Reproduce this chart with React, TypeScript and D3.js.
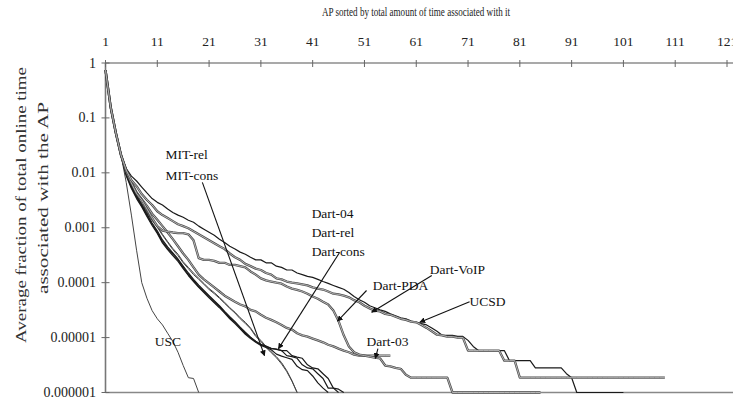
import React from 'react';
import * as d3 from 'd3';

// ---------- data ----------
const xTicks = [1, 11, 21, 31, 41, 51, 61, 71, 81, 91, 101, 111, 121];
const yTicks = [1, 0.1, 0.01, 0.001, 0.0001, 0.00001, 0.000001];
const yTickLabels = ['1', '0.1', '0.01', '0.001', '0.0001', '0.00001', '0.000001'];

const usc = [0.74, 0.157, 0.053, 0.021, 0.0067, 0.0017, 3.9e-4, 1.0e-4, 5.2e-5, 3.1e-5, 2.2e-5, 1.7e-5, 1.2e-5, 8.5e-6, 5.4e-6, 3.1e-6, 1.86e-6, 1.8e-6, 1e-6];

const mitRel = [0.74, 0.157, 0.053, 0.021, 0.0107, 0.0059, 0.0039, 0.0028, 0.002, 0.0014, 0.00107, 7.6e-4, 5.6e-4, 4.2e-4, 3.3e-4, 2.4e-4, 1.9e-4, 1.5e-4, 1.2e-4, 9.7e-5, 7.8e-5, 6.6e-5, 5.4e-5, 4.4e-5, 3.5e-5, 2.9e-5, 2.3e-5, 1.9e-5, 1.5e-5, 1.1e-5, 8.9e-6, 6.9e-6, 5.5e-6, 4.5e-6, 3.5e-6, 2.5e-6, 1.65e-6, 1e-6];
const mitCons = [0.73, 0.15, 0.05, 0.02, 0.01, 0.0056, 0.0037, 0.0027, 0.0019, 0.00135, 0.00102, 7.3e-4, 5.4e-4, 4.0e-4, 3.1e-4, 2.3e-4, 1.8e-4, 1.4e-4, 1.15e-4, 9.3e-5, 7.5e-5, 6.3e-5, 5.2e-5, 4.2e-5, 3.4e-5, 2.8e-5, 2.2e-5, 1.8e-5, 1.45e-5, 1.05e-5, 8.5e-6, 6.6e-6, 5.3e-6, 4.3e-6, 3.3e-6, 2.4e-6, 1.6e-6, 1e-6];

const dart04 = [0.74, 0.157, 0.053, 0.021, 0.0092, 0.0055, 0.0036, 0.0025, 0.0017, 0.00116, 8.3e-4, 5.6e-4, 4.2e-4, 3.3e-4, 2.6e-4, 1.9e-4, 1.4e-4, 1.1e-4, 8.5e-5, 6.9e-5, 5.6e-5, 4.5e-5, 3.7e-5, 2.9e-5, 2.3e-5, 1.9e-5, 1.5e-5, 1.2e-5, 1.0e-5, 8.5e-6, 7.4e-6, 6.9e-6, 6.3e-6, 6.1e-6, 5.8e-6, 4.7e-6, 4.5e-6, 4.2e-6, 3.2e-6, 2.8e-6, 2.7e-6, 2.2e-6, 1.8e-6, 1.2e-6, 1.2e-6, 1.15e-6, 1e-6];
const dartRel = [0.74, 0.16, 0.055, 0.022, 0.0098, 0.0058, 0.0038, 0.0026, 0.0018, 0.00122, 8.8e-4, 6.0e-4, 4.5e-4, 3.5e-4, 2.7e-4, 2.0e-4, 1.5e-4, 1.15e-4, 9.0e-5, 7.2e-5, 5.8e-5, 4.7e-5, 3.8e-5, 3.0e-5, 2.4e-5, 1.95e-5, 1.55e-5, 1.25e-5, 1.02e-5, 8.6e-6, 7.5e-6, 7.0e-6, 6.4e-6, 6.2e-6, 5.8e-6, 5.8e-6, 4.7e-6, 4.4e-6, 4.2e-6, 3.2e-6, 2.8e-6, 2.7e-6, 2.2e-6, 1.8e-6, 1.2e-6, 1e-6];
const dartCons = [0.73, 0.15, 0.051, 0.02, 0.0088, 0.0052, 0.0034, 0.0024, 0.0016, 0.0011, 7.9e-4, 5.3e-4, 4.0e-4, 3.1e-4, 2.45e-4, 1.8e-4, 1.35e-4, 1.05e-4, 8.2e-5, 6.6e-5, 5.3e-5, 4.3e-5, 3.5e-5, 2.8e-5, 2.2e-5, 1.8e-5, 1.45e-5, 1.15e-5, 9.6e-6, 8.2e-6, 7.2e-6, 6.6e-6, 6.0e-6, 5.0e-6, 4.6e-6, 4.3e-6, 4.0e-6, 3.0e-6, 2.6e-6, 2.5e-6, 2.0e-6, 1.5e-6, 1.2e-6, 1e-6];

const dart03 = [0.74, 0.157, 0.053, 0.021, 0.0112, 0.0067, 0.0044, 0.0033, 0.0025, 0.0018,
  0.0014, 0.00107, 8.2e-4, 6.2e-4, 4.6e-4, 3.4e-4, 2.6e-4, 1.9e-4, 1.4e-4, 1.15e-4,
  9.7e-5, 8.2e-5, 6.9e-5, 5.8e-5, 5.1e-5, 4.5e-5, 4.0e-5, 3.7e-5, 3.2e-5, 3.0e-5,
  2.6e-5, 2.3e-5, 2.1e-5, 1.9e-5, 1.7e-5, 1.5e-5, 1.4e-5, 1.2e-5, 1.1e-5, 1.04e-5,
  9.6e-6, 8.9e-6, 8.2e-6, 7.4e-6, 6.9e-6, 6.3e-6, 5.8e-6, 5.4e-6, 4.9e-6, 4.7e-6,
  4.7e-6, 4.7e-6, 4.7e-6, 4.7e-6, 4.7e-6, 4.7e-6];

const dartPDA = [0.74, 0.157, 0.053, 0.021, 0.0107, 0.0065, 0.0042, 0.0032, 0.0022, 0.0015,
  0.00107, 8.9e-4, 8.5e-4, 8.2e-4, 8.0e-4, 8.0e-4, 7.6e-4, 5.9e-4, 2.8e-4, 2.6e-4,
  2.6e-4, 2.5e-4, 2.3e-4, 2.3e-4, 2.1e-4, 2.1e-4, 2.0e-4, 1.9e-4, 1.6e-4, 1.4e-4,
  1.2e-4, 1.1e-4, 1.05e-4, 1.0e-4, 9.6e-5, 8.5e-5, 7.8e-5, 7.4e-5, 6.9e-5, 6.3e-5,
  5.6e-5, 5.1e-5, 4.5e-5, 4.0e-5, 3.1e-5, 2.0e-5, 1.1e-5, 6.9e-6, 5.4e-6, 4.9e-6,
  4.7e-6, 4.5e-6, 4.3e-6, 4.2e-6, 3.1e-6, 3.0e-6, 2.8e-6, 2.7e-6, 2.1e-6, 1.86e-6,
  1.86e-6, 1.86e-6, 1.86e-6, 1.86e-6, 1.86e-6, 1.86e-6, 1.86e-6, 1e-6, 1e-6, 1e-6,
  1e-6, 1e-6, 1e-6, 1e-6, 1e-6, 1e-6, 1e-6, 1e-6, 1e-6, 1e-6,
  1e-6, 1e-6, 1e-6, 1e-6, 1e-6];

const dartVoIP = [0.74, 0.157, 0.053, 0.021, 0.012, 0.0087, 0.0071, 0.0055, 0.0043, 0.0034,
  0.0029, 0.0026, 0.0022, 0.0019, 0.0017, 0.00155, 0.00137, 0.00126, 0.00107, 9.4e-4,
  8.3e-4, 7.3e-4, 6.2e-4, 5.4e-4, 4.6e-4, 4.1e-4, 3.6e-4, 3.3e-4, 2.9e-4, 2.6e-4,
  2.6e-4, 2.3e-4, 2.3e-4, 2.0e-4, 1.9e-4, 1.7e-4, 1.7e-4, 1.5e-4, 1.4e-4, 1.3e-4,
  1.25e-4, 1.15e-4, 1.05e-4, 9.7e-5, 8.9e-5, 8.2e-5, 7.6e-5, 6.6e-5, 5.6e-5, 4.9e-5,
  4.4e-5, 3.8e-5, 3.5e-5, 3.2e-5, 3.0e-5, 2.7e-5, 2.5e-5, 2.3e-5, 2.2e-5, 2.0e-5,
  1.9e-5, 1.8e-5, 1.7e-5, 1.5e-5, 1.3e-5, 1.1e-5, 1.1e-5, 1.1e-5, 1.05e-5, 1.05e-5,
  8.9e-6, 6.9e-6, 5.8e-6, 5.8e-6, 5.8e-6, 5.8e-6, 5.8e-6, 5.8e-6, 3.8e-6, 3.8e-6,
  3.8e-6, 3.8e-6, 3.8e-6, 2.8e-6, 2.8e-6, 2.8e-6, 2.8e-6, 2.8e-6, 2.8e-6, 2.2e-6,
  1.86e-6, 1e-6, 1e-6, 1e-6, 1e-6, 1e-6, 1e-6, 1e-6, 1e-6, 1e-6,
  1e-6];

const ucsd = [0.74, 0.157, 0.053, 0.021, 0.0112, 0.0073, 0.0057, 0.0041, 0.0032, 0.0026,
  0.002, 0.0017, 0.0015, 0.00132, 0.00116, 0.00107, 9.8e-4, 8.6e-4, 7.6e-4, 6.7e-4,
  5.9e-4, 5.2e-4, 4.6e-4, 4.1e-4, 3.4e-4, 2.9e-4, 2.6e-4, 2.2e-4, 2.0e-4, 1.8e-4,
  1.7e-4, 1.5e-4, 1.4e-4, 1.2e-4, 1.15e-4, 1.05e-4, 1.0e-4, 9.7e-5, 9.3e-5, 8.9e-5,
  8.2e-5, 7.8e-5, 7.5e-5, 6.9e-5, 6.3e-5, 6.1e-5, 5.8e-5, 5.4e-5, 4.8e-5, 4.4e-5,
  3.8e-5, 3.4e-5, 3.1e-5, 3.0e-5, 2.7e-5, 2.6e-5, 2.4e-5, 2.2e-5, 2.1e-5, 1.95e-5,
  1.9e-5, 1.7e-5, 1.5e-5, 1.3e-5, 1.13e-5, 1.1e-5, 1.04e-5, 1.04e-5, 1.0e-5, 1.0e-5,
  5.8e-6, 5.8e-6, 5.8e-6, 5.8e-6, 5.8e-6, 5.8e-6, 5.8e-6, 3.8e-6, 3.8e-6, 3.8e-6,
  1.86e-6, 1.86e-6, 1.86e-6, 1.86e-6, 1.86e-6, 1.86e-6, 1.86e-6, 1.86e-6, 1.86e-6, 1.86e-6,
  1.86e-6, 1.86e-6, 1.86e-6, 1.86e-6, 1.86e-6, 1.86e-6, 1.86e-6, 1.86e-6, 1.86e-6, 1.86e-6,
  1.86e-6, 1.86e-6, 1.86e-6, 1.86e-6, 1.86e-6, 1.86e-6, 1.86e-6, 1.86e-6, 1.86e-6];

const seriesNames = ['USC', 'MIT-rel', 'MIT-cons', 'Dart-04', 'Dart-rel', 'Dart-cons', 'Dart-03', 'Dart-PDA', 'Dart-VoIP', 'UCSD'];
const seriesValues = [usc, mitRel, mitCons, dart04, dartRel, dartCons, dart03, dartPDA, dartVoIP, ucsd];
const seriesStyle = ['gray', 'gray', 'gray', 'dark', 'dark', 'dark', 'double', 'double', 'dark', 'double'];

// annotation labels: [rank, value] of text anchor (left, baseline)
const labelTexts = ['MIT-rel', 'MIT-cons', 'Dart-04', 'Dart-rel', 'Dart-cons', 'Dart-VoIP', 'Dart-PDA', 'UCSD', 'Dart-03', 'USC'];
const labelAnchors: [number, number][] = [[12.6, 0.0178], [12.6, 0.0073], [40.8, 0.00148], [40.8, 6.7e-4], [40.8, 3.0e-4], [63.6, 1.41e-4], [52.6, 7.5e-5], [71.3, 3.7e-5], [51.4, 6.9e-6], [10.5, 6.9e-6]];
// arrows: from [rank, value] to [rank, value]
const arrowFrom: [number, number][] = [[19.7, 6.7e-3], [46.2, 3.55e-4], [51.4, 7.2e-5], [64, 1.35e-4], [71.3, 4.5e-5], [53.6, 6.3e-6]];
const arrowTo: [number, number][] = [[31.7, 4.7e-6], [34.4, 6.3e-6], [45.8, 2.0e-5], [52.4, 2.9e-5], [61.7, 1.9e-5], [53.1, 4.2e-6]];

const W = 733;
const H = 402;
const FONT = "'Liberation Serif', 'Times New Roman', Times, serif";
const tf: React.CSSProperties = { fontFamily: FONT };

export default function App() {
  const x = d3.scaleLinear().domain([1, 121]).range([105.5, 727]);
  const y = d3.scaleLog().domain([1e-6, 1]).range([392.5, 63]);
  const line = d3.line<number>().x((_, i) => x(i + 1)).y((d) => y(d));

  const left = 105.5;
  const top = 63;
  const bottom = 392.5;

  return (
    <svg width={W} height={H} style={{ position: 'absolute', left: 0, top: 0, background: '#fff', fontFamily: FONT }}>
      <defs>
        <marker id="ah" viewBox="0 0 8 8" refX="7" refY="4" markerWidth="6" markerHeight="6" orient="auto" markerUnits="userSpaceOnUse">
          <path d="M0,0 L8,4 L0,8 z" fill="#111" />
        </marker>
      </defs>
      {/* axis title */}
      <text x={416} y={16} fontSize={12.5} textAnchor="middle" fill="#222" style={tf} textLength={188} lengthAdjust="spacingAndGlyphs">
        AP sorted by total amount of time associated with it
      </text>
      {/* x tick labels */}
      {xTicks.map((t) => (
        <text key={'xt' + t} x={x(t)} y={46} fontSize={13.5} textAnchor="middle" fill="#222" style={tf}>{t}</text>
      ))}
      {/* y title */}
      <text transform="translate(21,205) rotate(-90)" fontSize={15} textAnchor="middle" dominantBaseline="central" fill="#333" style={tf} textLength={276} lengthAdjust="spacingAndGlyphs">
        Average fraction of total online time
      </text>
      <text transform="translate(43,198) rotate(-90)" fontSize={15} textAnchor="middle" dominantBaseline="central" fill="#333" style={tf} textLength={192} lengthAdjust="spacingAndGlyphs">
        associated with the AP
      </text>
      {/* y tick labels */}
      {yTicks.map((t, i) => (
        <text key={'yt' + i} x={96} y={y(t)} fontSize={14} textAnchor="end" dominantBaseline="central" fill="#222" style={tf}>{yTickLabels[i]}</text>
      ))}
      {/* frame lines */}
      <line x1={left} x2={W} y1={top} y2={top} stroke="#555" strokeWidth={1.2} />
      <line x1={left} x2={W} y1={bottom} y2={bottom} stroke="#888" strokeWidth={1.6} />
      <line x1={left} x2={left} y1={top} y2={bottom} stroke="#777" strokeWidth={1.6} />
      {xTicks.map((t) => (
        <line key={'xk' + t} x1={x(t)} x2={x(t)} y1={top - 3} y2={top + 4} stroke="#666" strokeWidth={1} />
      ))}
      {yTicks.map((t, i) => (
        <line key={'yk' + i} x1={left - 4} x2={left + 4} y1={y(t)} y2={y(t)} stroke="#666" strokeWidth={1} />
      ))}
      {/* series */}
      {seriesValues.map((vals, i) => {
        const d = line(vals) || '';
        const st = seriesStyle[i];
        if (st === 'double') {
          return (
            <g key={seriesNames[i]}>
              <path d={d} fill="none" stroke="#4a4a4a" strokeWidth={2.3} strokeLinejoin="round" />
              <path d={d} fill="none" stroke="#e4e4e4" strokeWidth={0.7} strokeLinejoin="round" />
            </g>
          );
        }
        return (
          <path key={seriesNames[i]} d={d} fill="none" stroke={st === 'dark' ? '#1a1a1a' : '#444'} strokeWidth={st === 'dark' ? 1.2 : 1.0} strokeLinejoin="round" />
        );
      })}
      {/* arrows */}
      {arrowFrom.map((f, i) => (
        <line key={'ar' + i} x1={x(f[0])} y1={y(f[1])} x2={x(arrowTo[i][0])} y2={y(arrowTo[i][1])} stroke="#111" strokeWidth={1.1} markerEnd="url(#ah)" />
      ))}
      {/* labels */}
      {labelTexts.map((t, i) => (
        <text key={'lb' + t} x={x(labelAnchors[i][0])} y={y(labelAnchors[i][1])} fontSize={13.5} fill="#111" style={tf}>{t}</text>
      ))}
    </svg>
  );
}
